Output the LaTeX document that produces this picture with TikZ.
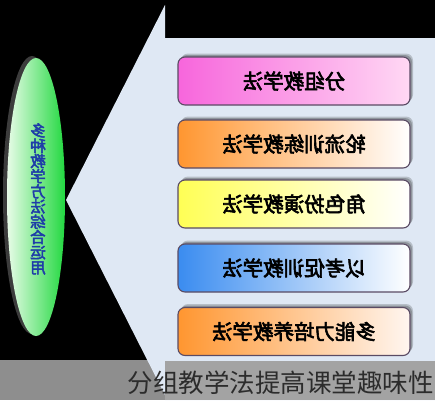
\documentclass[tikz,border=0pt]{standalone}
\usepackage{fontspec}
\newfontfamily\cjk{Noto Sans CJK SC}
\newfontfamily\cjkb[FakeBold=3]{Noto Sans CJK SC}
\usetikzlibrary{shapes.geometric,shadows}
\definecolor{bgblue}{HTML}{DFE8F4}
\definecolor{bandL}{HTML}{8E8E8E}
\definecolor{bandR}{HTML}{A3A3A3}
\definecolor{bandtxt}{HTML}{2C2C2C}
\definecolor{boxline}{HTML}{5A4B64}
\definecolor{pinkL}{HTML}{F766DC}
\definecolor{pinkR}{HTML}{FFD8F4}
\definecolor{orgL}{HTML}{FF9630}
\definecolor{orgR}{HTML}{FFF6F0}
\definecolor{yelL}{HTML}{FFFF55}
\definecolor{bluL}{HTML}{3A8CF0}
\definecolor{grnL}{HTML}{E8FCE8}
\definecolor{grnM}{HTML}{A8F0B0}
\definecolor{grnR}{HTML}{22D840}
\definecolor{elltxt}{HTML}{1E3CA8}
\definecolor{ellsh}{HTML}{3C3C3C}
\newcommand\mir[1]{\scalebox{-1}[1]{#1}}
\tikzset{
  mbox/.style={rounded corners=7pt, draw=boxline, line width=1.1pt,
    minimum width=232pt, minimum height=48pt, inner sep=0pt,
    font=\cjkb\fontsize{20.5}{20.5}\selectfont, text=black,
    general shadow={fill=black, opacity=.18, shadow xshift=3pt, shadow yshift=3.5pt},
    general shadow={fill=black, opacity=.22, shadow xshift=2pt, shadow yshift=2pt}},
}
\begin{document}
\begin{tikzpicture}[x=1pt,y=1pt]
\fill[black] (0,0) rectangle (435,400);
\useasboundingbox (0,0) rectangle (435,400);
% band left part
\fill[bandL] (0,0) rectangle (165,40);
% light blue callout shape
\fill[bgblue] (165,395) -- (66,200) -- (165,5) -- (165,0) -- (435,0) -- (435,362) -- (165,362) -- cycle;
% ellipse with shadow
\node (ell) [ellipse, minimum width=58pt, minimum height=278pt, inner sep=0pt,
  left color=grnL, middle color=grnM, right color=grnR,
  general shadow={fill=ellsh, shadow xshift=-4pt, shadow yshift=2pt}] at (36,203) {};
\node (elltext) [align=center, text=elltxt, font=\cjkb\fontsize{15.5}{15.2}\selectfont]
  at (38,201) {\mir{多}\\\mir{种}\\\mir{教}\\\mir{学}\\\mir{方}\\\mir{法}\\\mir{综}\\\mir{合}\\\mir{运}\\\mir{用}};
% boxes
\node (b1) [mbox, left color=pinkL, right color=pinkR] at (294,319) {\mir{分组教学法}};
\node (b2) [mbox, left color=orgL, right color=white] at (294,256) {\mir{轮流训练教学法}};
\node (b3) [mbox, left color=yelL, right color=white] at (294,196) {\mir{角色扮演教学法}};
\node (b4) [mbox, left color=bluL, right color=white] at (294,132) {\mir{以考促训教学法}};
\node (b5) [mbox, left color=orgL, right color=orgR] at (294,68.5) {\mir{多能力培养教学法}};
% band right part and caption
\fill[bandR] (165,0) rectangle (435,39);
\node (cap) [anchor=base east, inner sep=0pt, text=bandtxt, font=\cjk\fontsize{25.5}{25.5}\selectfont]
  at (434,8) {分组教学法提高课堂趣味性};
\end{tikzpicture}
\end{document}
